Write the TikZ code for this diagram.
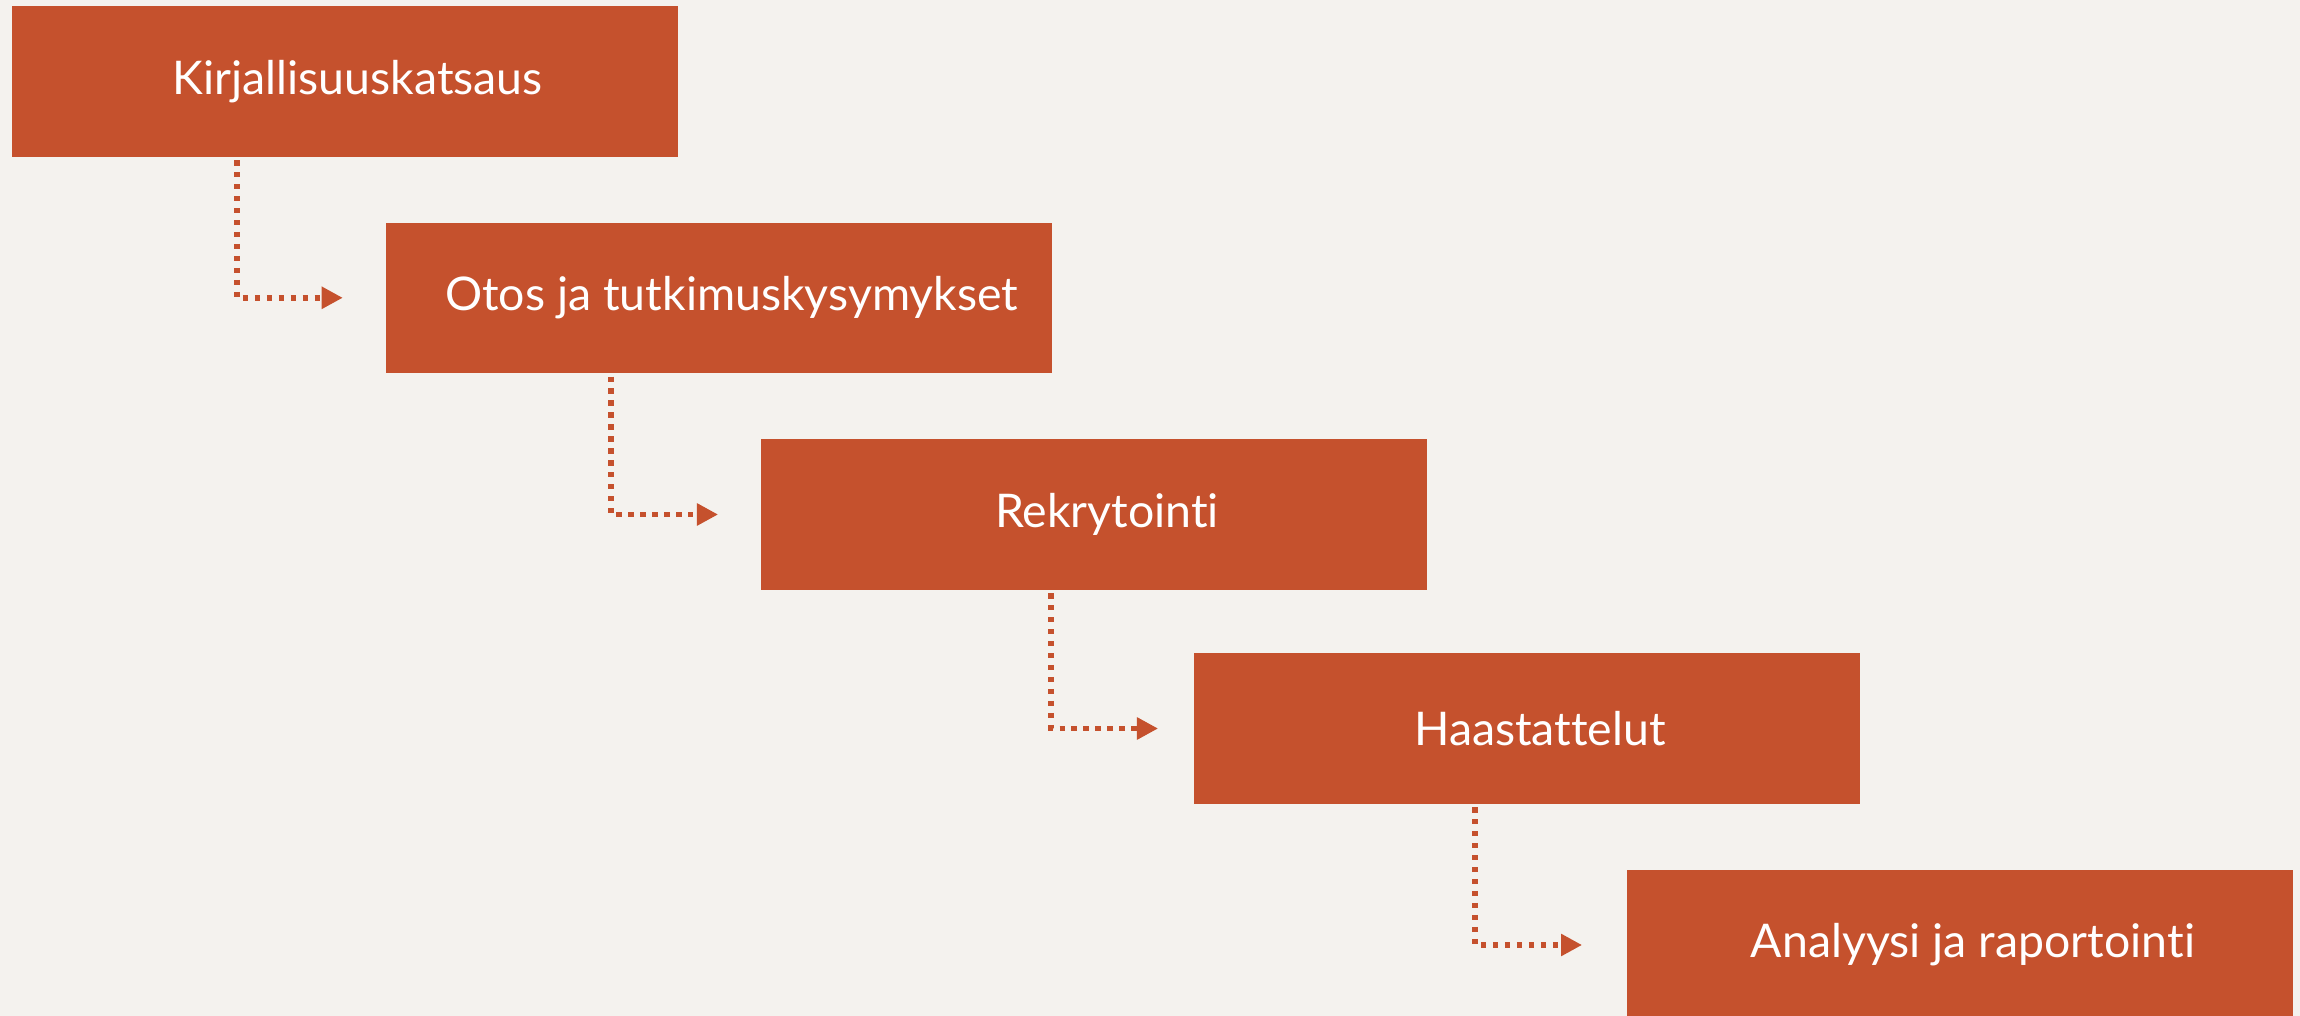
\documentclass[tikz,border=0pt]{standalone}
\usepackage{fontspec}
\setmainfont{Lato}[Ligatures=NoCommon]
\usepackage{xcolor}
\usetikzlibrary{arrows.meta}

\definecolor{rust}{RGB}{197,81,45}
\definecolor{paper}{RGB}{244,242,238}

\begin{document}
\begin{tikzpicture}[
  x=0.01cm, y=-0.01cm,
  stage/.style={fill=rust, text=white, minimum width=6.66cm, minimum height=1.5cm,
    inner sep=0pt, font=\fontsize{13.2}{16}\selectfont,
    execute at begin node=\hspace*{0.26cm}},
  flow/.style={rust, line width=1.6pt, dash pattern=on 1.5pt off 1.9pt,
    -{Triangle[length=6pt, width=6pt]}}
]

% 画布与背景
\useasboundingbox (0,0) rectangle (2300,1016);
\fill[paper] (0,0) rectangle (2300,1016);

% 阶段框
\node[stage] (lit)  at (344.7,81.5)  {Kirjallisuuskatsaus};
\node[stage] (otos) at (718.7,297.8) {Otos ja tutkimuskysymykset};
\node[stage] (rek)  at (1094,514.5)  {Rekrytointi};
\node[stage] (haas) at (1527,728.5)  {Haastattelut};
\node[stage] (ana)  at (1960,945)    {Analyysi ja raportointi};

% 虚线箭头
\draw[flow] ([xshift=2.26cm, yshift=-0.03cm]lit.south west)  |- ([xshift=-0.42cm]otos.west);
\draw[flow] ([xshift=2.26cm, yshift=-0.03cm]otos.south west) |- ([xshift=-0.42cm]rek.west);
\draw[flow] ([xshift=2.91cm, yshift=-0.03cm]rek.south west)  |- ([xshift=-0.35cm]haas.west);
\draw[flow] ([xshift=2.82cm, yshift=-0.03cm]haas.south west) |- ([xshift=-0.44cm]ana.west);

\end{tikzpicture}
\end{document}
